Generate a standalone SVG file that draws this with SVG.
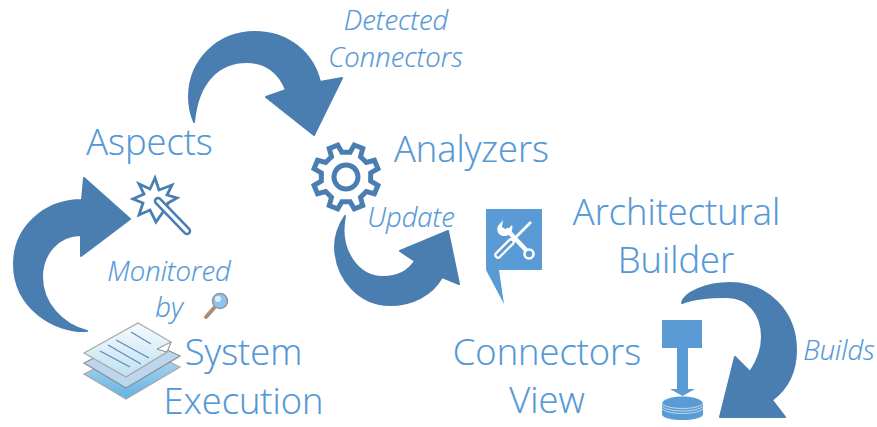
<svg xmlns="http://www.w3.org/2000/svg" width="877" height="427" viewBox="0 0 877 427">
<style>
text{font-family:"Open Sans","Noto Sans","Liberation Sans",sans-serif;fill:#5397d6;text-anchor:middle;stroke:#5397d6;stroke-width:0.2}
.big{font-size:36.3px;font-weight:300}
.lab{font-size:27.4px;font-style:italic;font-weight:300}
.arrow{fill:#4a7eb0;stroke:#4a7eb0;stroke-width:2;stroke-linejoin:round}
.line{stroke:#5f86b8;stroke-width:1.2;fill:none}
</style>
<defs>
<linearGradient id="pg" x1="0" y1="0" x2="0" y2="1"><stop offset="0" stop-color="#f6fbfe"/><stop offset="1" stop-color="#bfe0f2"/></linearGradient>
<linearGradient id="pb" x1="0" y1="0" x2="0" y2="1"><stop offset="0" stop-color="#c4dcf0"/><stop offset="1" stop-color="#5fb4e4"/></linearGradient>
</defs>
<rect width="877" height="427" fill="#fff"/>
<g id="connectors">
<path class="arrow" d="M84 178L130 219L81 256L81 235C58 235 42 254 42 277C42 303 62 325 87 331C55 333 14 308 14 264C14 228 44 200 82 200Z"/>
<path class="arrow" d="M194 122C190 112 189 104 189 97C189 60 218 32 255 32C288 32 313 53 320 82L342 78L314 135L266 97L286 90C279 72 265 62 247 62C220 62 198 80 194 122Z"/>
<path class="arrow" d="M345 216C337 228 335 238 335 247C336 280 360 305 390 305C412 305 432 295 442 277L459 284L448 231L400 251L415 261C408 272 396 277 383 277C358 277 338 250 345 216Z"/>
<path class="arrow" d="M682 303C684 293 706 283 730 283C768 283 796 312 796 350C796 370 788 388 772 400L785 417L720 417L735 357L750 372C757 362 762 350 762 337C762 314 748 297 727 297C710 297 695 298 682 303Z"/>
</g>
<g id="aspects">
<polygon points="155,178 159,190 172,185 167,195 177,198 168,203 166,208 163,212 156,222 150,210 139,215 143,203 133,199 144,194 139,184 150,189" fill="none" stroke="#4a7eb0" stroke-width="2.8"/>
<line x1="158" y1="201" x2="187" y2="231" stroke="#4a7eb0" stroke-width="8.500" stroke-linecap="round"/>
<line x1="158" y1="201" x2="187" y2="231" stroke="#fff" stroke-width="3.4" stroke-linecap="round"/>
<text class="big" x="149.500" y="155">Aspects</text>
</g>
<g id="analyzers">
<g transform="translate(346 177) rotate(22.5)" fill="none" stroke="#4a7eb0" stroke-width="5">
<polygon points="24.36,-5.62 32.68,-4.59 32.68,4.59 24.36,5.62 21.2,13.25 26.35,19.86 19.86,26.35 13.25,21.2 5.62,24.36 4.59,32.68 -4.59,32.68 -5.62,24.36 -13.25,21.2 -19.86,26.35 -26.35,19.86 -21.2,13.25 -24.36,5.62 -32.68,4.59 -32.68,-4.59 -24.36,-5.62 -21.2,-13.25 -26.35,-19.86 -19.86,-26.35 -13.25,-21.2 -5.62,-24.36 -4.59,-32.68 4.59,-32.68 5.62,-24.36 13.25,-21.2 19.86,-26.35 26.35,-19.86 21.2,-13.25"/>
<circle r="12"/>
</g>
<text class="big" x="471.500" y="162">Analyzers</text>
</g>
<g id="architectural-builder">
<polygon points="486,209 542,209 542,270 499,270 504,304 486,270" fill="#5b9bd5"/>
<line x1="531" y1="222" x2="512" y2="241" stroke="#fff" stroke-width="2.6"/>
<line x1="511" y1="242" x2="498" y2="255" stroke="#fff" stroke-width="7.500" stroke-linecap="round"/>
<line x1="511" y1="242" x2="498" y2="255" stroke="#5b9bd5" stroke-width="3" stroke-linecap="round"/>
<line x1="506" y1="229" x2="526" y2="250" stroke="#fff" stroke-width="4.500"/>
<path d="M498 226L503 220L502 227L507 230L512 225C514 231 509 237 503 236C498 235 496 230 498 226Z" fill="#fff"/>
<circle cx="529" cy="254" r="4.500" fill="#5b9bd5" stroke="#fff" stroke-width="2.6"/>
<text class="big" x="676.500" y="225">Architectural</text>
<text class="big" x="676" y="273">Builder</text>
</g>
<g id="connectors-view">
<rect x="662" y="320" width="40" height="28" fill="#5b9bd5"/>
<rect x="677" y="348" width="11" height="41" fill="#5b9bd5"/>
<polygon points="670,389 695,389 682.500,396" fill="#5b9bd5"/>
<path d="M662 404C662 394 703 394 703 404L703 414C703 422 662 422 662 414Z" fill="#5b9bd5"/>
<path d="M662 404C668 410 697 410 703 404M662 406.500C668 412.500 697 412.500 703 406.500M662 409C668 415 697 415 703 409" fill="none" stroke="#d6e6f5" stroke-width="0.8"/>
<text class="big" x="547" y="365">Connectors</text>
<text class="big" x="547" y="413">View</text>
</g>
<g id="system-execution">
<polygon points="84,374 138,347 180,367 126,399" fill="url(#pb)" stroke="#a8a8a8" stroke-width="1.2"/>
<polygon points="84,363 138,336 180,356 126,388" fill="#bcd6ee" stroke="#8a8f96" stroke-width="1.2"/>
<path d="M84 353L138 323L171 342L167 352L126 377Z" fill="url(#pg)" stroke="#a8a8a8" stroke-width="1.2"/>
<path d="M171 342L157 349L167 352Z" fill="#fff" stroke="#909090" stroke-width="1"/>
<path class="line" d="M131 332L151 344M116 340L149 358M108 345L141 364M100 351L130 367"/>
<text class="big" x="243.500" y="365">System</text>
<text class="big" x="243.500" y="414">Execution</text>
</g>
<g id="labels">
<text class="lab" x="396" y="30">Detected</text>
<text class="lab" x="395.500" y="67">Connectors</text>
<text class="lab" x="411" y="227">Update</text>
<text class="lab" x="169" y="281">Monitored</text>
<text class="lab" x="169" y="317">by</text>
<text class="lab" x="839" y="360">Builds</text>
</g>
<g id="monitor-icon">
<line x1="214" y1="308" x2="206" y2="317" stroke="#a98c72" stroke-width="4" stroke-linecap="round"/>
<circle cx="220" cy="301" r="7.500" fill="#8fc2ec" stroke="#8e97a3" stroke-width="1.6"/>
<circle cx="218" cy="299" r="3" fill="#dcefff"/>
</g>
</svg>
